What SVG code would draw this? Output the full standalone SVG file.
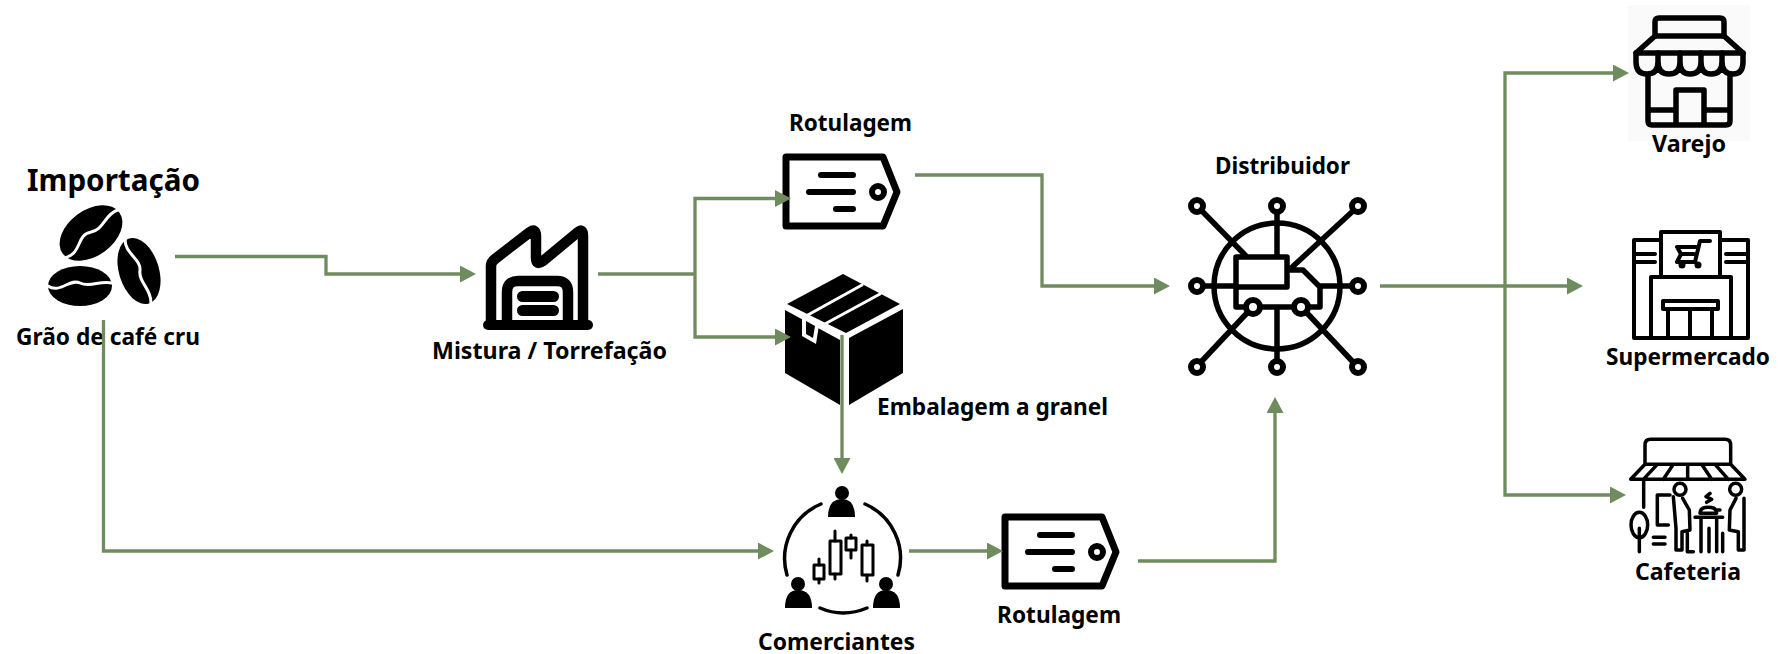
<svg xmlns="http://www.w3.org/2000/svg" width="1779" height="654" viewBox="0 0 1779 654">
<style>
text{font-family:"Noto Sans","Open Sans","DejaVu Sans",sans-serif;font-weight:700;fill:#000;font-size:24px}
.c{fill:none;stroke:#6f8c5f;stroke-width:3.300;stroke-linejoin:miter}
.k{fill:none;stroke:#000;stroke-linecap:round;stroke-linejoin:round}
.t5{stroke-width:5.500}.t4{stroke-width:4}.t3{stroke-width:3.500}
.w{fill:none;stroke:#fff;stroke-linecap:round;stroke-linejoin:round}
.f{fill:#000}
</style>
<defs>
<marker id="a" markerUnits="userSpaceOnUse" markerWidth="16" markerHeight="17" refX="11" refY="8.500" orient="auto"><path d="M0 0L16 8.500L0 17Z" fill="#6f8c5f"/></marker>
<g id="tag">
<path class="k" stroke-width="7" d="M786 157H883L897 192L883 226H786Z"/>
<path class="k" stroke-width="6" d="M821 175H853M809 192H853M836 209H853"/>
<circle class="k" stroke-width="6" cx="878" cy="192" r="6"/>
</g>
</defs>

<g id="importacao">
<text x="27" y="191" style="font-size:31px" textLength="173" lengthAdjust="spacingAndGlyphs">Importação</text>
<g id="beans">
<g transform="rotate(-36 91 233)"><ellipse class="f" cx="91" cy="233" rx="35" ry="23"/><path class="w" stroke-width="3" d="M56 238C72 244 78 226 91 232C104 238 112 226 126 230"/></g>
<g transform="rotate(73 139 271)"><ellipse class="f" cx="139" cy="271" rx="34" ry="20"/><path class="w" stroke-width="3" d="M105 275C118 280 128 265 139 270C150 275 160 264 173 269"/></g>
<ellipse class="f" cx="80" cy="286" rx="32" ry="20"/><path class="w" stroke-width="3" d="M48 286C60 294 70 278 80 283C90 288 100 280 112 283"/>
</g>
<text x="16" y="345" textLength="184" lengthAdjust="spacingAndGlyphs">Grão de café cru</text>
</g>

<g id="torrefacao">
<path class="k" stroke-width="10.500" d="M491 322V266Q491 262 495 259L530 232Q536 228 536 236V258Q536 266 543 261L578 232Q583 228 583 236V322"/>
<path class="k" stroke-width="10.500" d="M507 322V292Q507 281 518 281H557Q568 281 568 292V322"/>
<rect class="f" x="483" y="320" width="110" height="10" rx="5"/>
<rect class="f" x="517" y="291" width="42" height="11" rx="5.500"/>
<rect class="f" x="517" y="305" width="42" height="11" rx="5.500"/>
<text x="432" y="359" textLength="235" lengthAdjust="spacingAndGlyphs">Mistura / Torrefação</text>
</g>

<g id="rotulagem-1">
<use href="#tag"/>
<text x="789" y="131" textLength="123" lengthAdjust="spacingAndGlyphs">Rotulagem</text>
</g>

<g id="embalagem">
<path class="f" d="M843 274L900 304L846 333L787 304Z"/>
<path class="f" d="M785 310L840 340V405L785 373Z"/>
<path class="f" d="M849 338L903 309V373L849 405Z"/>
<path class="w" stroke-width="3" d="M806 316L862 285M823 325L880 294"/>
<path fill="#fff" d="M802 315L802 336L816 344L819 325Z"/>
<path class="f" d="M806 321L806 334L813 338L815 326Z"/>
<text x="877" y="415" textLength="231" lengthAdjust="spacingAndGlyphs">Embalagem a granel</text>
</g>

<g id="distribuidor">
<circle class="k" stroke-width="5.500" cx="1277" cy="286" r="63"/>
<path class="k" stroke-width="5.500" d="M1236 257H1287V287H1236ZM1236 287V307H1246M1260 307H1294M1308 307H1320V287L1303 270H1288M1201 210L1246 256M1277 212V257M1353 211L1289 270M1203 286H1236M1320 286H1352M1201 362L1247 313M1277 307V361M1353 362L1307 313"/>
<g class="k" stroke-width="6"><circle cx="1197" cy="206" r="6"/><circle cx="1277" cy="206" r="6"/><circle cx="1358" cy="206" r="6"/><circle cx="1197" cy="286" r="6"/><circle cx="1358" cy="286" r="6"/><circle cx="1197" cy="367" r="6"/><circle cx="1277" cy="367" r="6"/><circle cx="1358" cy="367" r="6"/><circle cx="1253" cy="307" r="7"/><circle cx="1301" cy="307" r="7"/></g>
<text x="1215" y="174" textLength="135" lengthAdjust="spacingAndGlyphs">Distribuidor</text>
</g>

<g id="comerciantes">
<path class="k t3" d="M821 504A59 59 0 0 0 787 575M865 504A59 59 0 0 1 898 575M820 608Q843 618 867 608"/>
<circle class="f" cx="842" cy="493" r="7"/><path class="f" d="M828 517Q828 499 842 499Q855 499 855 517Z"/>
<circle class="f" cx="798" cy="584" r="7"/><path class="f" d="M785 608Q785 590 798 590Q812 590 812 608Z"/>
<circle class="f" cx="886" cy="584" r="7"/><path class="f" d="M873 608Q873 590 886 590Q900 590 900 608Z"/>
<g class="k" stroke-width="3"><path d="M819 559V565M819 579V583M835 531V541M835 574V579M851 535V538M851 550V558M867 541V545M867 575V581"/><rect x="814" y="565" width="10" height="14"/><rect x="830" y="541" width="11" height="33"/><rect x="846" y="538" width="10" height="12"/><rect x="862" y="545" width="11" height="30"/></g>
<text x="758" y="650" textLength="157" lengthAdjust="spacingAndGlyphs">Comerciantes</text>
</g>

<g id="rotulagem-2">
<use href="#tag" x="219" y="360"/>
<text x="997" y="623" textLength="124" lengthAdjust="spacingAndGlyphs">Rotulagem</text>
</g>

<g id="varejo">
<rect x="1628" y="5" width="122" height="136" fill="#fafafa"/>
<g class="k t5">
<path d="M1655 36V22Q1655 18 1659 18H1720Q1724 18 1724 22V36"/>
<path d="M1655 36H1724L1743 53H1636Z"/>
<path d="M1636 53V62Q1636 74 1647 74Q1658 74 1658 62V53M1658 62Q1658 74 1669 74Q1680 74 1680 62V53M1680 62Q1680 74 1690 74Q1701 74 1701 62V53M1701 62Q1701 74 1711 74Q1722 74 1722 62V53M1722 62Q1722 74 1733 74Q1743 74 1743 62V53"/>
<path d="M1648 76V121Q1648 125 1652 125H1726Q1730 125 1730 121V76M1676 125V90H1704V125M1648 110H1676M1704 110H1730"/>
</g>
<text x="1652" y="152" textLength="74" lengthAdjust="spacingAndGlyphs">Varejo</text>
</g>

<g id="supermercado">
<g class="k t4">
<path d="M1661 240H1634V338H1748V240H1720M1661 277V232H1720V277M1651 338V277H1731V338M1663 301H1718V309H1663ZM1668 309V338M1690 309V338M1712 309V338M1634 254H1655M1634 262H1655M1726 254H1748M1726 262H1748"/>
<path d="M1710 241H1700L1695 262H1679M1677 247H1696M1677 247L1681 254H1694M1681 254L1677 262"/>
</g>
<circle class="f" cx="1682" cy="265" r="3.500"/><circle class="f" cx="1698" cy="265" r="3.500"/>
<text x="1606" y="365" textLength="164" lengthAdjust="spacingAndGlyphs">Supermercado</text>
</g>

<g id="cafeteria">
<g transform="translate(1600 430) scale(.33333)">
<g class="k" stroke-width="10.500">
<path d="M135 100V45Q135 28 152 28H375Q392 28 392 45V100M135 103H392L435 148H92ZM130 148L172 103M190 148L220 103M263 148V103M335 148L305 103M385 148L345 103M131 150V232"/>
<ellipse cx="118" cy="285" rx="25" ry="38"/>
<path d="M118 365V295M160 322H195M160 342H195"/>
<path d="M210 195H172V285H205"/>
<circle cx="240" cy="178" r="18"/><circle cx="407" cy="178" r="18"/>
<path d="M220 200L228 295V360H246V305L270 300L268 240L248 205"/>
<path d="M432 205V360H415V305M415 305L388 300L390 240L408 205"/>
<path d="M262 310V365H280"/>
<path d="M285 262H368M303 262V365M350 262V365M327 295V365M368 310V365"/>
<path d="M300 250Q300 232 325 232Q350 232 350 250ZM352 240H360M330 190L318 200L335 208L320 217"/>
</g>
</g>
<text x="1635" y="580" textLength="106" lengthAdjust="spacingAndGlyphs">Cafeteria</text>
</g>

<g id="connectors">
<path class="c" marker-end="url(#a)" d="M175 256.500H326V274H471"/>
<path class="c" d="M598 274H695"/>
<path class="c" marker-end="url(#a)" d="M695 274V198.500H786"/>
<path class="c" marker-end="url(#a)" d="M695 274V337H786"/>
<path class="c" marker-end="url(#a)" d="M915 175H1042V286H1165"/>
<path class="c" marker-end="url(#a)" d="M842 335V469"/>
<path class="c" marker-end="url(#a)" d="M103.500 320V551H769"/>
<path class="c" marker-end="url(#a)" d="M909 551H998"/>
<path class="c" marker-end="url(#a)" d="M1138 561H1275V402"/>
<path class="c" marker-end="url(#a)" d="M1380 286H1578"/>
<path class="c" marker-end="url(#a)" d="M1505 286V73H1624"/>
<path class="c" marker-end="url(#a)" d="M1505 286V495H1621"/>
</g>
</svg>
